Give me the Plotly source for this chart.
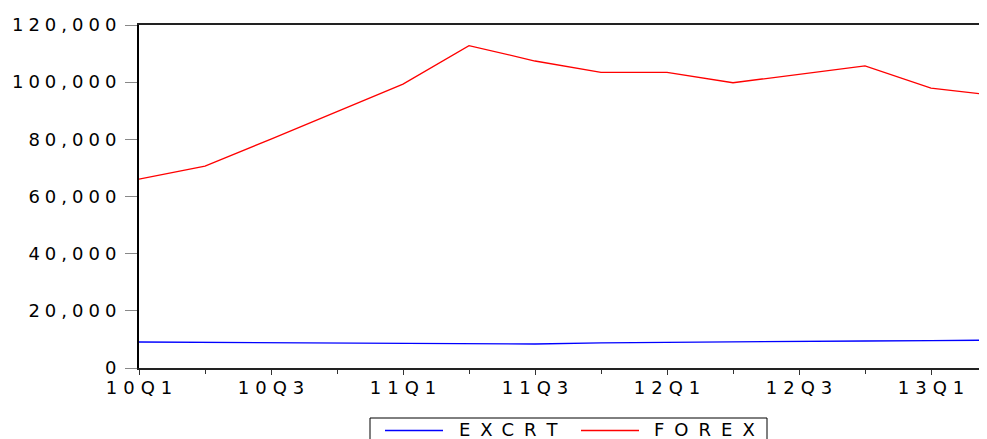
import plotly.graph_objects as go

quarters = ["10Q1", "10Q2", "10Q3", "10Q4", "11Q1", "11Q2", "11Q3", "11Q4",
            "12Q1", "12Q2", "12Q3", "12Q4", "13Q1", "13Q2"]
excrt = [9100, 9000, 8900, 8850, 8750, 8400, 8400, 8800,
         8900, 9100, 9300, 9450, 9600, 9750]
forex = [66100, 70600, 80100, 89700, 99300, 112800, 107400, 103400,
         103400, 99800, 102700, 105700, 97900, 95300]
tick_labels = ["10Q1", "10Q3", "11Q1", "11Q3", "12Q1", "12Q3", "13Q1"]
y_ticks = [0, 20000, 40000, 60000, 80000, 100000, 120000]
series_names = ["EXCRT", "FOREX"]
series_colors = ["#0000FF", "#FF0000"]

idx = list(range(len(quarters)))
FONT = dict(family="DejaVu Sans", size=18, color="black")


def spaced(txt, ls):
    # letter-spaced text without trailing space after the last glyph
    if len(txt) < 2:
        return txt
    return f"<span style='letter-spacing:{ls}px'>{txt[:-1]}</span>{txt[-1]}"


# Plot area in page pixels (page body has an 8px margin)
PX_L, PX_R, PX_T, PX_B = 139, 987, 25, 368
W, H = 979, 431


def px_x(p):
    return (p - PX_L) / (PX_R - PX_L)


def px_y(p):
    return (PX_B - p) / (PX_B - PX_T)


fig = go.Figure()
for name, vals, col in zip(series_names, [excrt, forex], series_colors):
    fig.add_trace(go.Scatter(x=idx, y=vals, mode="lines", name=name,
                             line=dict(color=col, width=1.3), showlegend=False))

# Custom legend box (EViews style)
shapes = [dict(type="rect", xref="paper", yref="paper",
               x0=px_x(370), x1=px_x(767), y0=px_y(450), y1=px_y(418),
               line=dict(color="black", width=1), fillcolor="white", layer="above")]
annotations = []
leg_line_x = [(385, 443), (581, 639)]
leg_text_x = [457, 652]
for (x0, x1), tx, name, col in zip(leg_line_x, leg_text_x, series_names, series_colors):
    shapes.append(dict(type="line", xref="paper", yref="paper",
                       x0=px_x(x0), x1=px_x(x1), y0=px_y(430.5), y1=px_y(430.5),
                       line=dict(color=col, width=1.3), layer="above"))
    annotations.append(dict(xref="paper", yref="paper", x=px_x(tx), y=px_y(430),
                            xanchor="left", yanchor="middle", showarrow=False,
                            text=spaced(name, 10), font=FONT))

fig.update_layout(
    width=W, height=H,
    margin=dict(l=PX_L - 8, r=0, t=PX_T - 8, b=8 + H - PX_B, autoexpand=False),
    paper_bgcolor="white", plot_bgcolor="white",
    font=FONT, showlegend=False,
    shapes=shapes, annotations=annotations,
)
fig.update_xaxes(
    range=[0, (PX_R - PX_L) / 66.0],
    tickmode="array",
    tickvals=[quarters.index(t) for t in tick_labels],
    ticktext=[spaced(t, 6) for t in tick_labels],
    ticks="outside", ticklen=5, tickcolor="#333", tickwidth=1,
    ticklabelstandoff=-3,
    showgrid=False, zeroline=False,
    showline=True, linecolor="#222", linewidth=2, mirror=True,
    minor=dict(tickmode="linear", tick0=0, dtick=1, ticks="outside",
               ticklen=4, tickcolor="#333", showgrid=False),
    tickfont=FONT,
)
fig.update_yaxes(
    range=[0, 120000],
    tickmode="array", tickvals=y_ticks,
    ticktext=[spaced(f"{v:,}", 5) for v in y_ticks],
    ticks="outside", ticklen=12, tickcolor="#888", tickwidth=1,
    ticklabelstandoff=5,
    showgrid=False, zeroline=False,
    showline=True, linecolor="black", linewidth=2,
    tickfont=FONT,
)

fig.write_html("out.html")
